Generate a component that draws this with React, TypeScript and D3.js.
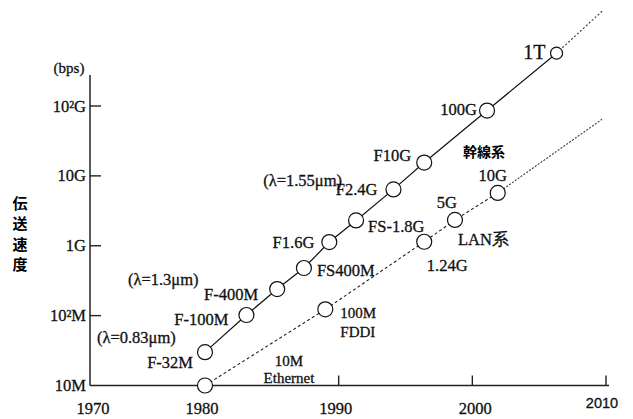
import React from "react";
import * as d3 from "d3";

// trunk (幹線系) optical transmission systems
const trunkYears = [1980, 1983.1, 1985.4, 1987.4, 1989.3, 1991.3, 1994.1, 1996.4, 2001.1, 2006.3];
const trunkRates = [3.0e7, 1.02e8, 2.4e8, 4.8e8, 1.13e9, 2.3e9, 6.4e9, 1.55e10, 8.6e10, 5.7e11];
const trunkNames = ["F-32M", "F-100M", "F-400M", "FS400M", "F1.6G", "FS-1.8G", "F2.4G", "F10G", "100G", "1T"];
const trunkTrend = [2006.3, 2009.8];
const trunkTrendRates = [5.7e11, 2.36e12];

// LAN systems
const lanYears = [1980, 1989.0, 1996.4, 1998.7, 2001.9];
const lanRates = [1.0e7, 1.23e8, 1.14e9, 2.34e9, 5.7e9];
const lanNames = [["10M", "Ethernet"], ["100M", "FDDI"], ["1.24G"], ["5G"], ["10G"]];
const lanTrend = [2001.9, 2009.7];
const lanTrendRates = [5.7e9, 6.45e10];

const yTicks = [1e7, 1e8, 1e9, 1e10, 1e11];
const yTickLabels = ["10M", "10²M", "1G", "10G", "10²G"];
const xTicks = [1970, 1980, 1990, 2000, 2010];

// free annotations, placed in data coordinates
const notes = [
  { text: "(λ=1.55μm)", year: 1984.35, rate: 8.7e9 },
  { text: "(λ=1.3μm)", year: 1973.3, rate: 3.24e8 },
  { text: "(λ=0.83μm)", year: 1970.6, rate: 4.94e7 },
  { text: "幹線系", year: 1999.3, rate: 2.27e10, cjk: true },
  { text: "LAN系", year: 1998.93, rate: 1.21e9 },
];

// label placement around each circle (px offsets)
const trunkLabelPos = [
  { a: "end", dx: -12, dy: 10 },
  { a: "end", dx: -18, dy: 4 },
  { a: "end", dx: -19, dy: 5 },
  { a: "start", dx: 13, dy: 2 },
  { a: "end", dx: -15, dy: 0 },
  { a: "start", dx: 12, dy: 6 },
  { a: "end", dx: -16, dy: 0 },
  { a: "end", dx: -13, dy: -7 },
  { a: "end", dx: -10, dy: -1 },
  { a: "end", dx: -11, dy: -1 },
];
const lanLabelPos = [
  { a: "middle", dx: 84, dy: -25, lh: 17 },
  { a: "start", dx: 15, dy: 4, lh: 19 },
  { a: "middle", dx: 23, dy: 24, lh: 0 },
  { a: "middle", dx: -8, dy: -17, lh: 0 },
  { a: "middle", dx: -5, dy: -17, lh: 0 },
];

const serif = "'Liberation Serif', 'Times New Roman', 'DejaVu Serif', serif";
const sans = "'Liberation Sans', Arial, sans-serif";
const cjk = "'Noto Sans CJK JP', sans-serif";
const fs = 16.5;
// printed text looks a little heavier than a plain browser render
const ink = { fill: "#111", stroke: "#111", strokeWidth: 0.3 };

export default function App() {
  const width = 633;
  const height = 419;

  const x = d3.scaleLinear().domain([1970, 1980, 2010]).range([90, 205, 606]);
  const y = d3.scaleLog().domain([1e7, 1e11]).range([385.5, 106]);

  const line = d3
    .line<[number, number]>()
    .x((d) => x(d[0]))
    .y((d) => y(d[1]));

  const trunk = trunkYears.map((yr, i) => [yr, trunkRates[i]] as [number, number]);
  const lan = lanYears.map((yr, i) => [yr, lanRates[i]] as [number, number]);
  const trunkExt = trunkTrend.map((yr, i) => [yr, trunkTrendRates[i]] as [number, number]);
  const lanExt = lanTrend.map((yr, i) => [yr, lanTrendRates[i]] as [number, number]);

  const axisY0 = y(1e7);

  return (
    <svg
      width={width}
      height={height}
      style={{ position: "absolute", left: 0, top: 0, background: "#fff" }}
    >
      {/* axes */}
      <line x1={90} x2={90} y1={75} y2={axisY0} stroke="#222" strokeWidth={1.5} />
      <line x1={90} x2={609} y1={axisY0} y2={axisY0} stroke="#222" strokeWidth={1.5} />
      {yTicks.map((t, i) => (
        <g key={t}>
          {i > 0 && <line x1={90} x2={101} y1={y(t)} y2={y(t)} stroke="#222" strokeWidth={1.4} />}
          <text
            x={86}
            y={y(t)}
            textAnchor="end"
            dominantBaseline="central"
            style={{ fontFamily: serif }}
            fontSize={fs}
            {...ink}
          >
            {yTickLabels[i]}
          </text>
        </g>
      ))}
      {xTicks.map((t) => (
        <g key={t}>
          {t > 1980 && (
            <line x1={x(t)} x2={x(t)} y1={axisY0} y2={axisY0 - 10} stroke="#222" strokeWidth={1.4} />
          )}
          <text
            x={t === 1970 ? x(t) + 3 : t === 2010 ? x(t) - 4 : t === 2000 ? x(t) + 3 : x(t) - 3}
            y={t === 2010 ? 403 : 408}
            textAnchor="middle"
            dominantBaseline="central"
            style={{ fontFamily: t === 2010 ? sans : serif }}
            fontSize={t === 2010 ? 14.5 : fs}
            {...ink}
          >
            {t}
          </text>
        </g>
      ))}
      <text x={69} y={68} textAnchor="middle" dominantBaseline="central" style={{ fontFamily: serif }} fontSize={15} {...ink}>
        (bps)
      </text>
      {"伝送速度".split("").map((c, i) => (
        <text
          key={i}
          x={20}
          y={202 + i * 20.5}
          textAnchor="middle"
          dominantBaseline="central"
          style={{ fontFamily: cjk }}
          fontWeight={700}
          fontSize={15}
        >
          {c}
        </text>
      ))}

      {/* trend lines */}
      <path d={line(trunk) || ""} fill="none" stroke="#111" strokeWidth={1.2} />
      <path d={line(trunkExt) || ""} fill="none" stroke="#333" strokeWidth={1.1} strokeDasharray="2,2" />
      <path d={line(lan) || ""} fill="none" stroke="#222" strokeWidth={1.1} strokeDasharray="3,2.5" />
      <path d={line(lanExt) || ""} fill="none" stroke="#333" strokeWidth={1.1} strokeDasharray="2,1.5" />

      {/* points */}
      {trunk.map((d, i) => (
        <circle
          key={"t" + i}
          cx={x(d[0])}
          cy={y(d[1])}
          r={i === trunk.length - 1 ? 6 : 7.5}
          fill="#fff"
          stroke="#111"
          strokeWidth={1.2}
        />
      ))}
      {lan.map((d, i) => (
        <circle key={"l" + i} cx={x(d[0])} cy={y(d[1])} r={7.5} fill="#fff" stroke="#111" strokeWidth={1.2} />
      ))}

      {/* labels */}
      {trunk.map((d, i) => {
        const p = trunkLabelPos[i];
        return (
          <text
            key={"tl" + i}
            x={x(d[0]) + p.dx}
            y={y(d[1]) + p.dy}
            textAnchor={p.a}
            dominantBaseline="central"
            style={{ fontFamily: serif }}
            fontSize={i === trunk.length - 1 ? 20 : fs}
            {...ink}
          >
            {trunkNames[i]}
          </text>
        );
      })}
      {lan.map((d, i) => {
        const p = lanLabelPos[i];
        const twoLines = lanNames[i].length > 1;
        return lanNames[i].map((s, j) => (
          <text
            key={"ll" + i + j}
            x={x(d[0]) + p.dx}
            y={y(d[1]) + p.dy + j * p.lh}
            textAnchor={p.a}
            dominantBaseline="central"
            style={{ fontFamily: serif }}
            fontSize={twoLines ? 15 : fs}
            {...ink}
          >
            {s}
          </text>
        ));
      })}
      {notes.map((n) => (
        <text
          key={n.text}
          x={x(n.year)}
          y={y(n.rate)}
          dominantBaseline="central"
          style={{ fontFamily: n.cjk ? cjk : serif }}
          fontWeight={n.cjk ? 700 : 400}
          fontSize={n.cjk ? 14 : fs}
          {...(n.cjk ? {} : ink)}
        >
          {n.text}
        </text>
      ))}
    </svg>
  );
}
